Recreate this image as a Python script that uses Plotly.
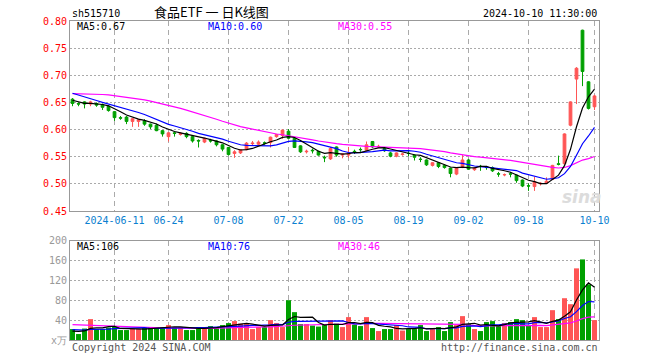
import plotly.graph_objects as go
import pandas as pd

# ---------------- data ----------------
dates = [
    "2024-05-30", "2024-05-31",
    "2024-06-03", "2024-06-04", "2024-06-05", "2024-06-06", "2024-06-07",
    "2024-06-11", "2024-06-12", "2024-06-13", "2024-06-14",
    "2024-06-17", "2024-06-18", "2024-06-19", "2024-06-20", "2024-06-21",
    "2024-06-24", "2024-06-25", "2024-06-26", "2024-06-27", "2024-06-28",
    "2024-07-01", "2024-07-02", "2024-07-03", "2024-07-04", "2024-07-05",
    "2024-07-08", "2024-07-09", "2024-07-10", "2024-07-11", "2024-07-12",
    "2024-07-15", "2024-07-16", "2024-07-17", "2024-07-18", "2024-07-19",
    "2024-07-22", "2024-07-23", "2024-07-24", "2024-07-25", "2024-07-26",
    "2024-07-29", "2024-07-30", "2024-07-31", "2024-08-01", "2024-08-02",
    "2024-08-05", "2024-08-06", "2024-08-07", "2024-08-08", "2024-08-09",
    "2024-08-12", "2024-08-13", "2024-08-14", "2024-08-15", "2024-08-16",
    "2024-08-19", "2024-08-20", "2024-08-21", "2024-08-22", "2024-08-23",
    "2024-08-26", "2024-08-27", "2024-08-28", "2024-08-29", "2024-08-30",
    "2024-09-02", "2024-09-03", "2024-09-04", "2024-09-05", "2024-09-06",
    "2024-09-09", "2024-09-10", "2024-09-11", "2024-09-12", "2024-09-13",
    "2024-09-18", "2024-09-19", "2024-09-20",
    "2024-09-23", "2024-09-24", "2024-09-25", "2024-09-26", "2024-09-27",
    "2024-09-30",
    "2024-10-08", "2024-10-09", "2024-10-10",
]

open_ = [.656, .648, .651, .647, .648, .646, .643, .633, .622, .623,
         .615, .615, .616, .610, .608, .598, .587, .594, .591, .593,
         .587, .580, .577, .580, .579, .572, .567, .556, .557, .563,
         .574, .573, .5755, .576, .587, .589, .597, .584, .570, .559,
         .562, .560, .549, .546, .568, .553, .553, .560, .5635, .562,
         .578, .568, .565, .557, .551, .554, .5565, .553, .5455, .544,
         .534, .539, .534, .529, .518, .532, .544, .526, .5325, .5305,
         .530, .5185, .5165, .5185, .516, .507, .4965, .495, .500, .501,
         .508, .537, .537, .608, .693, .783, .688, .642]

high = [.658, .650, .652, .653, .650, .648, .645, .634, .625, .625,
        .621, .619, .619, .611, .611, .599, .595, .596, .595, .595,
        .588, .582, .585, .583, .580, .573, .568, .562, .564, .577,
        .579, .580, .578, .587, .592, .600, .601, .585, .571, .563,
        .565, .561, .552, .568, .569, .556, .568, .563, .567, .578,
        .579, .572, .567, .559, .558, .557, .562, .554, .549, .545,
        .540, .540, .536, .530, .530, .553, .546, .531, .535, .533,
        .532, .522, .519, .522, .517, .508, .501, .513, .503, .512,
        .535, .552, .593, .652, .715, .784, .689, .664]

low = [.643, .643, .639, .643, .642, .636, .633, .616, .618, .610,
       .605, .605, .607, .601, .597, .587, .578, .587, .589, .584,
       .576, .567, .575, .576, .569, .560, .552, .548, .555, .562,
       .570, .571, .572, .567, .585, .583, .583, .566, .557, .556,
       .556, .552, .540, .544, .550, .547, .548, .555, .559, .560,
       .566, .566, .559, .549, .549, .552, .551, .543, .540, .533,
       .532, .529, .528, .512, .516, .529, .526, .524, .524, .526,
       .522, .513, .514, .512, .502, .494, .487, .487, .497, .500,
       .507, .534, .535, .606, .647, .680, .637, .636]

close = [.648, .647, .647, .651, .645, .641, .635, .622, .621, .615,
         .620, .618, .610, .605, .598, .592, .594, .593, .593, .587,
         .579, .579, .584, .579, .572, .564, .554, .559, .563, .575,
         .575, .577, .575, .586, .591, .599, .584, .567, .559, .560,
         .561, .553, .548, .565, .553, .555, .557, .559, .563, .572,
         .568, .569, .561, .551, .557, .555, .556, .549, .545, .535,
         .539, .532, .530, .519, .529, .544, .527, .529, .532, .530,
         .524, .518, .517, .518, .506, .496, .496, .504, .501, .505,
         .534, .536, .592, .651, .713, .707, .639, .662]

# volume, 10k units
volume = [22, 12, 23, 42, 22, 22, 25, 27, 20, 20,
          22, 22, 25, 26, 26, 26, 30, 25, 25, 20,
          20, 26, 26, 28, 25, 30, 34, 38, 33, 32,
          22, 26, 26, 40, 34, 26, 80, 56, 32, 32,
          29, 27, 30, 40, 33, 26, 46, 31, 28, 46,
          24, 18, 22, 22, 30, 19, 22, 22, 30, 18,
          22, 26, 18, 36, 30, 48, 32, 22, 18, 36,
          38, 28, 34, 36, 42, 40, 30, 46, 26, 26,
          60, 42, 84, 72, 144, 162, 112, 40]

# sessions before the visible window (estimated from where the MA lines start)
pre_close = [.650, .652, .655, .658, .660, .661, .662, .663, .663, .664,
             .662, .666, .670, .672, .674, .676, .676, .678, .676, .674,
             .684, .682, .680, .678, .676,
             .664, .658, .652, .648]
pre_volume = [30, 34, 38, 42, 36, 40, 44, 38, 32, 36,
              40, 34, 38, 36, 32, 34, 38, 36, 30, 32,
              26, 22, 24, 25, 23,
              16, 18, 17, 17]

tick_dates = ["2024-06-11", "2024-06-24", "2024-07-08", "2024-07-22", "2024-08-05",
              "2024-08-19", "2024-09-02", "2024-09-18", "2024-10-10"]
tick_labels = ["2024-06-11", "06-24", "07-08", "07-22", "08-05",
               "08-19", "09-02", "09-18", "10-10"]
price_ticks = [0.45, 0.50, 0.55, 0.60, 0.65, 0.70, 0.75, 0.80]
vol_ticks = [0, 40, 80, 120, 160, 200]
vol_tick_labels = ["x万", "40", "80", "120", "160", "200"]

# ---------------- derived ----------------
n_pre = len(pre_close)
c_all = pd.Series(pre_close + close)
v_all = pd.Series(pre_volume + volume)
ma5 = c_all.rolling(5).mean().iloc[n_pre:].tolist()
ma10 = c_all.rolling(10).mean().iloc[n_pre:].tolist()
ma30 = c_all.rolling(30).mean().iloc[n_pre:].tolist()
vma5 = v_all.rolling(5).mean().iloc[n_pre:].tolist()
vma10 = v_all.rolling(10).mean().iloc[n_pre:].tolist()
vma30 = v_all.rolling(30).mean().iloc[n_pre:].tolist()

RED = "#ff5555"
GREEN = "#00a000"
vol_colors = [RED if c > o else GREEN for o, c in zip(open_, close)]

MONO = "DejaVu Sans Mono"
GRID = "#aaaaaa"
FRAME = "#999999"

W, H = 660, 360
ML, MR, MT, MB = 70, 61, 21, 20
PW, PH = W - ML - MR, H - MT - MB


def px(x):
    return (x - ML) / PW


def py(y):
    return (H - MB - y) / PH


fig = go.Figure()

fig.add_trace(go.Candlestick(
    x=dates, open=open_, high=high, low=low, close=close,
    increasing=dict(line=dict(color=RED, width=1), fillcolor=RED),
    decreasing=dict(line=dict(color=GREEN, width=1), fillcolor=GREEN),
    whiskerwidth=0, xaxis="x", yaxis="y", hoverinfo="skip", showlegend=False,
))
for vals, col in ((ma30, "#ff00ff"), (ma10, "#0000ff"), (ma5, "#000000")):
    fig.add_trace(go.Scatter(x=dates, y=vals, mode="lines",
                             line=dict(color=col, width=1.2),
                             xaxis="x", yaxis="y", hoverinfo="skip", showlegend=False))

fig.add_trace(go.Bar(x=dates, y=volume, marker=dict(color=vol_colors, line=dict(width=0)),
                     xaxis="x2", yaxis="y2", hoverinfo="skip", showlegend=False))
for vals, col in ((vma30, "#ff00ff"), (vma10, "#0000ff"), (vma5, "#000000")):
    fig.add_trace(go.Scatter(x=dates, y=vals, mode="lines",
                             line=dict(color=col, width=1.2),
                             xaxis="x2", yaxis="y2", hoverinfo="skip", showlegend=False))

n = len(dates)
xrange_ = [-0.42, n - 1 + 0.75]

common_x = dict(
    type="category", range=xrange_, tickmode="array", tickvals=tick_dates,
    showgrid=True, gridcolor=GRID, griddash="5px,4px", gridwidth=1,
    showline=True, mirror=True, linecolor=FRAME, linewidth=1,
    ticks="", zeroline=False, fixedrange=True,
)

main_bottom = py(211)
vol_top = py(240.5)

fig.update_layout(
    width=W, height=H,
    margin=dict(l=ML, r=MR, t=MT, b=MB, pad=0),
    paper_bgcolor="white", plot_bgcolor="white",
    boxgap=0.35, bargap=0.17,
    showlegend=False,
    xaxis=dict(common_x, anchor="y", ticktext=tick_labels,
               tickfont=dict(family=MONO, size=10, color="#0a80d0"),
               rangeslider=dict(visible=False)),
    xaxis2=dict(common_x, anchor="y2", matches="x", showticklabels=False),
    yaxis=dict(domain=[main_bottom, 1], range=[0.45, 0.80], tickmode="array",
               tickvals=price_ticks, ticktext=[f"{v:.2f}" for v in price_ticks],
               tickfont=dict(family=MONO, size=10, color="#ff0000"),
               showgrid=True, gridcolor=GRID, griddash="2px,2px", gridwidth=1,
               showline=True, mirror=True, linecolor=FRAME, linewidth=1,
               zeroline=False, ticks="", fixedrange=True),
    yaxis2=dict(domain=[0, vol_top], range=[0, 200], tickmode="array",
                tickvals=vol_ticks, ticktext=vol_tick_labels,
                tickfont=dict(family=MONO, size=10, color="#999999"),
                showgrid=True, gridcolor=GRID, griddash="2px,2px", gridwidth=1,
                showline=True, mirror=True, linecolor=FRAME, linewidth=1,
                zeroline=False, ticks="", fixedrange=True),
)


def note(text, x, y, xanchor="left", color="#000000", size=10, family=MONO, **kw):
    fig.add_annotation(text=text, x=px(x), y=py(y), xref="paper", yref="paper",
                       xanchor=xanchor, yanchor="middle", showarrow=False,
                       font=dict(family=family, size=size, color=color, **kw))


note("sh515710", 70, 13)
note("食品ETF 一 日K线图", 211, 12, xanchor="center", size=13, family="Noto Sans CJK SC")
note("2024-10-10 11:30:00", 599, 13, xanchor="right")

note(f"MA5:{ma5[-1]:.2f}", 75, 27)
note(f"MA10:{ma10[-1]:.2f}", 206, 27, color="#0000ff")
note(f"MA30:{ma30[-1]:.2f}", 336, 27, color="#ff00ff")

note(f"MA5:{int(vma5[-1])}", 75, 247)
note(f"MA10:{int(vma10[-1])}", 206, 247, color="#0000ff")
note(f"MA30:{int(vma30[-1])}", 336, 247, color="#ff00ff")

note("Copyright 2024 SINA.COM", 70, 347, color="#555555")
note("http://finance.sina.com.cn", 600, 347, xanchor="right", color="#555555")

note("sina", 582, 197, xanchor="center", size=17, color="#dcdcdc",
     family="DejaVu Sans", style="italic", weight="bold")

fig.write_html("out.html", config={"displayModeBar": False},
               post_script="document.body.style.margin='0';")
